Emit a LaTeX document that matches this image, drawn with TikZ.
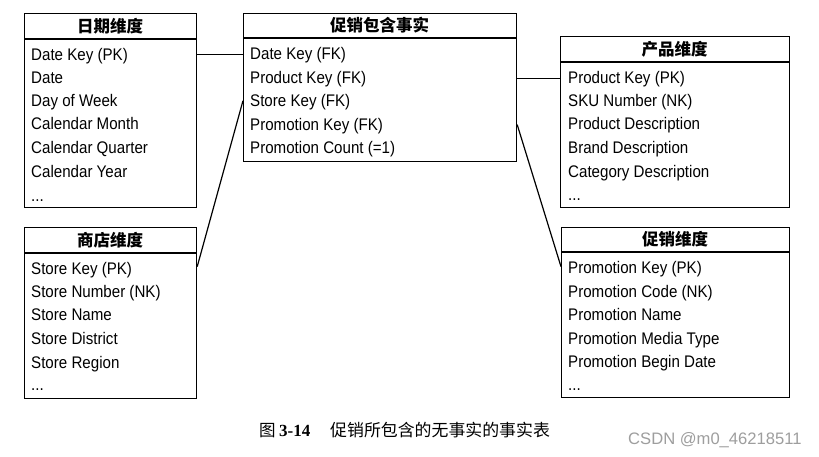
\documentclass[tikz,border=0pt]{standalone}
\usepackage{fontspec}
\setmainfont{Liberation Sans}[FakeStretch=0.9]
\newfontfamily\cjk{Noto Sans CJK SC}
\newfontfamily\capfont{Liberation Serif}
\newfontfamily\wmfont{Liberation Sans}
\begin{document}
\begin{tikzpicture}[x=1pt,y=-1pt,
  tbl/.style={draw, line width=1.2pt, rectangle, anchor=north west, inner sep=0pt},
  hdr/.style={line width=1.2pt},
  ttl/.style={font=\fontsize{16.5}{18}\cjk\bfseries, inner sep=0pt},
  row/.style={anchor=base west, inner sep=0pt, font=\fontsize{16.8}{18}\selectfont},
  link/.style={line width=1.2pt}]
\useasboundingbox (0,0) rectangle (819,456);
\fill[white] (0,0) rectangle (819,456);

% date dimension
\node[tbl, minimum width=172pt, minimum height=194pt] (date) at (24,13) {};
\draw[hdr] (24,39) -- (196,39);
\node[ttl] (datet) at (110,26) {日期维度};
\node[row] (dk) at (31,60) {Date Key (PK)};
\node[row] (d2) at (31,83) {Date};
\node[row] (d3) at (31,106) {Day of Week};
\node[row] (d4) at (31,129) {Calendar Month};
\node[row] (d5) at (31,153) {Calendar Quarter};
\node[row] (d6) at (31,177) {Calendar Year};
\node[row] (d7) at (31,201) {...};

% fact table
\node[tbl, minimum width=273pt, minimum height=148pt] (fact) at (243,13) {};
\draw[hdr] (243,38) -- (516,38);
\node[ttl] (factt) at (379.5,25.5) {促销包含事实};
\node[row] (fdk) at (250,59.5) {Date Key (FK)};
\node[row] (fpk) at (250,83) {Product Key (FK)};
\node[row] (fsk) at (250,106) {Store Key (FK)};
\node[row] (fmk) at (250,130) {Promotion Key (FK)};
\node[row] (fc) at (250,153) {Promotion Count (=1)};

% product dimension
\node[tbl, minimum width=229pt, minimum height=171pt] (prod) at (560,36) {};
\draw[hdr] (560,62) -- (789,62);
\node[ttl] (prodt) at (674.5,49) {产品维度};
\node[row] (pk) at (568,83) {Product Key (PK)};
\node[row] (p2) at (568,106) {SKU Number (NK)};
\node[row] (p3) at (568,129) {Product Description};
\node[row] (p4) at (568,153) {Brand Description};
\node[row] (p5) at (568,177) {Category Description};
\node[row] (p6) at (568,200) {...};

% store dimension
\node[tbl, minimum width=172pt, minimum height=171pt] (store) at (24,227) {};
\draw[hdr] (24,253) -- (196,253);
\node[ttl] (storet) at (110,240) {商店维度};
\node[row] (sk) at (31,274) {Store Key (PK)};
\node[row] (s2) at (31,297) {Store Number (NK)};
\node[row] (s3) at (31,320) {Store Name};
\node[row] (s4) at (31,344) {Store District};
\node[row] (s5) at (31,368) {Store Region};
\node[row] (s6) at (31,390) {...};

% promotion dimension
\node[tbl, minimum width=228pt, minimum height=170pt] (promo) at (561,227) {};
\draw[hdr] (561,252) -- (789,252);
\node[ttl] (promot) at (675,239.5) {促销维度};
\node[row] (mk) at (568,273) {Promotion Key (PK)};
\node[row] (m2) at (568,297) {Promotion Code (NK)};
\node[row] (m3) at (568,320) {Promotion Name};
\node[row] (m4) at (568,344) {Promotion Media Type};
\node[row] (m5) at (568,367) {Promotion Begin Date};
\node[row] (m6) at (568,390) {...};

% connectors
\draw[link] ([yshift=1pt]date.east |- dk) -- ([yshift=1pt]fact.west |- dk);
\draw[link] (fact.east |- fpk) -- (prod.west |- fpk);
\draw[link] ([yshift=1pt]fact.west |- fsk) -- ([yshift=3pt]store.east |- sk);
\draw[link] ([yshift=1pt]fact.east |- fmk) -- ([yshift=2pt]promo.west |- mk);

% caption
\node[anchor=base west, inner sep=0pt, font=\fontsize{16.5}{18}\cjk] (cap1) at (259,436) {图};
\node[anchor=base west, inner sep=0pt, font=\fontsize{17}{18}\capfont\bfseries] (cap2) at (279,436) {3-14};
\node[anchor=base west, inner sep=0pt, font=\fontsize{16.9}{18}\cjk] (cap3) at (330,436) {促销所包含的无事实的事实表};

% watermark
\node[anchor=base west, inner sep=0pt, font=\fontsize{16.6}{18}\wmfont, text=black!38] (wm) at (628,444) {CSDN @m0\_46218511};
\end{tikzpicture}
\end{document}
